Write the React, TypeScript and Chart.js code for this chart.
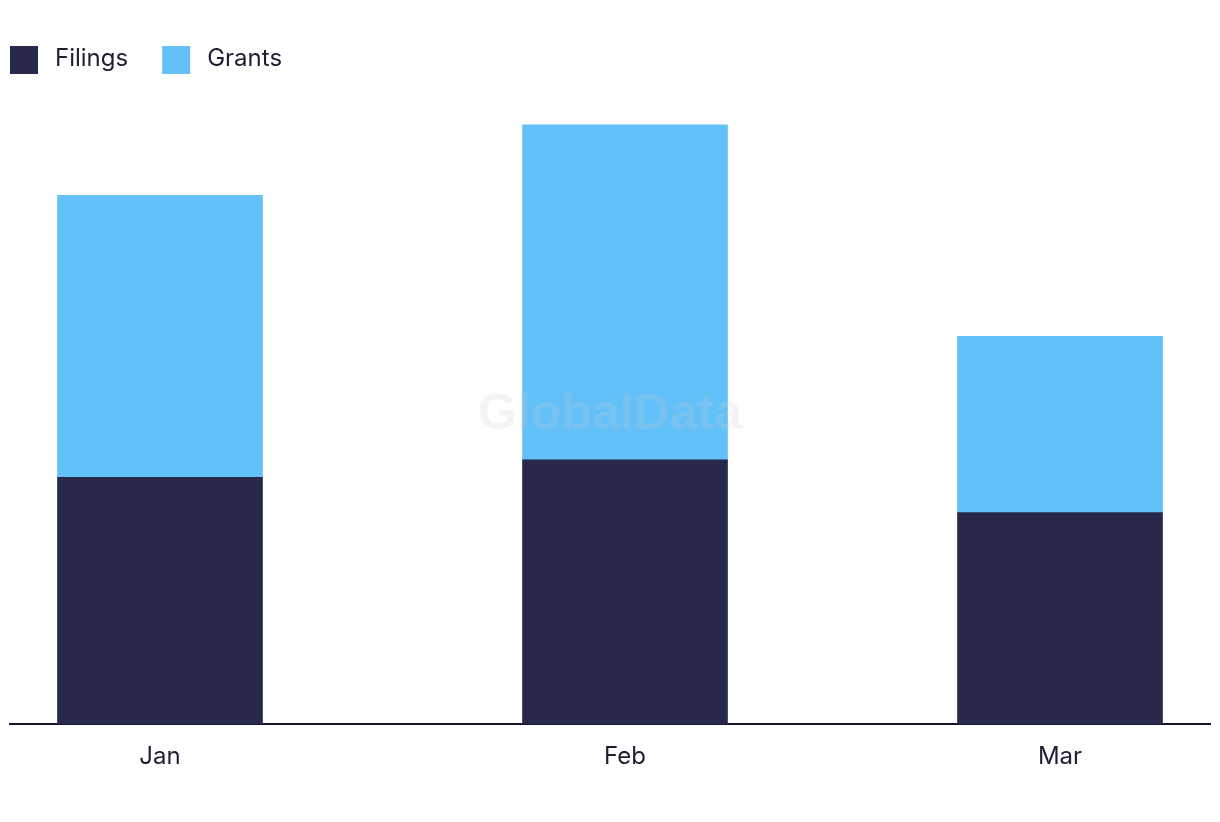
import React, { useEffect, useRef } from 'react';
import { Chart, registerables } from 'chart.js';

Chart.register(...registerables);

// ---- data ----
const months = ['Jan', 'Feb', 'Mar'];
// day-of-year offsets of each month start (leap year, Jan 1 = 0)
const monthStartDay = [0, 31, 60];
const filings = [14, 15, 12];
const grants = [16, 19, 10];
const seriesNames = ['Filings', 'Grants'];
const seriesColors = ['#28284c', '#63c1f9'];

const FONT = 'Inter, "Noto Sans", sans-serif';
const TEXT_COLOR = '#1e1e32';

const legendPlugin = {
  id: 'topLegend',
  afterDraw(chart: any) {
    const ctx = chart.ctx;
    ctx.save();
    ctx.font = `24px ${FONT}`;
    ctx.textBaseline = 'alphabetic';
    ctx.textAlign = 'left';
    let x = 2;
    chart.data.datasets.forEach((ds: any) => {
      ctx.fillStyle = ds.backgroundColor;
      ctx.fillRect(x, 38, 28, 28);
      ctx.fillStyle = TEXT_COLOR;
      ctx.fillText(ds.label, x + 45, 58);
      x += 45 + ctx.measureText(ds.label).width + 34;
    });
    ctx.restore();
  },
};

const watermarkPlugin = {
  id: 'watermark',
  afterDatasetsDraw(chart: any) {
    const ctx = chart.ctx;
    ctx.save();
    ctx.font = 'bold 50px "Liberation Sans", Arial, sans-serif';
    ctx.textAlign = 'center';
    ctx.textBaseline = 'alphabetic';
    ctx.fillStyle = 'rgba(200,200,200,0.2)';
    ctx.fillText('GlobalData', chart.width / 2, 421);
    ctx.restore();
  },
};

export default function App() {
  const ref = useRef<HTMLCanvasElement>(null);

  useEffect(() => {
    if (!ref.current) return;
    const chart = new Chart(ref.current, {
      type: 'bar',
      data: {
        datasets: [
          {
            label: seriesNames[0],
            data: monthStartDay.map((d, i) => ({ x: d, y: filings[i] })),
            backgroundColor: seriesColors[0],
            barThickness: 205,
          },
          {
            label: seriesNames[1],
            data: monthStartDay.map((d, i) => ({ x: d, y: grants[i] })),
            backgroundColor: seriesColors[1],
            barThickness: 205,
          },
        ],
      },
      options: {
        responsive: false,
        animation: false,
        layout: { padding: { top: 11, left: 2, right: 2, bottom: 25 } },
        plugins: {
          legend: { display: false },
          tooltip: { enabled: false },
        },
        scales: {
          x: {
            type: 'linear',
            stacked: true,
            offset: false,
            min: -10,
            max: 70,
            z: 1,
            grid: { display: false, drawTicks: false },
            border: { display: true, color: '#14142a', width: 2 },
            afterBuildTicks: (axis: any) => {
              axis.ticks = monthStartDay.map((v) => ({ value: v }));
            },
            ticks: {
              padding: 18,
              color: TEXT_COLOR,
              font: { family: FONT, size: 24 },
              maxRotation: 0,
              autoSkip: false,
              callback: (v: any) => {
                const i = monthStartDay.indexOf(Number(v));
                return i >= 0 ? months[i] : '';
              },
            },
          },
          y: {
            stacked: true,
            display: false,
            min: 0,
            max: 40,
          },
        },
      },
      plugins: [legendPlugin, watermarkPlugin],
    } as any);
    return () => chart.destroy();
  }, []);

  return <canvas ref={ref} width={1204} height={806} style={{ display: 'block' }} />;
}
